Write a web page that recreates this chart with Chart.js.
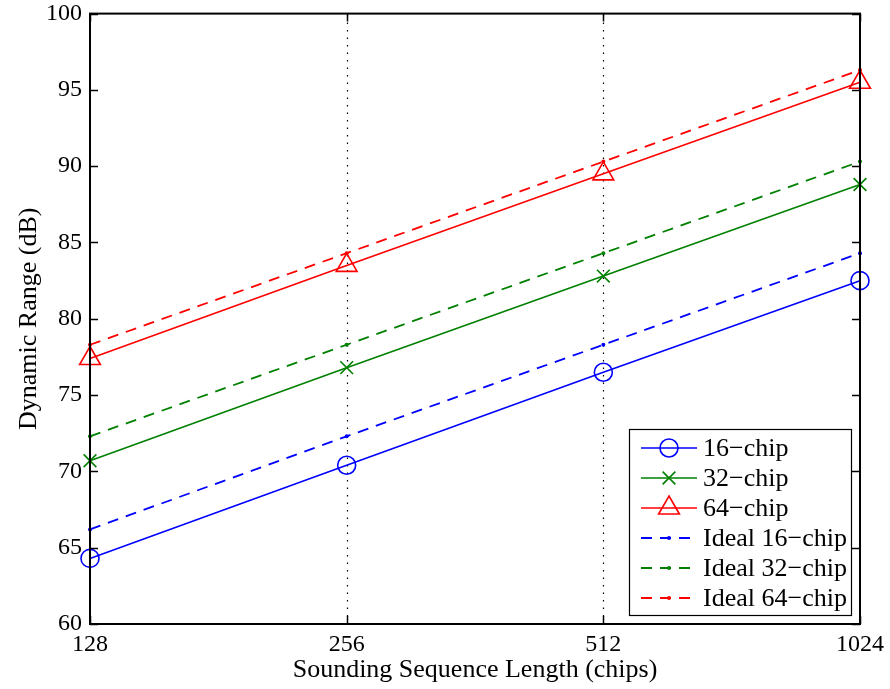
<!DOCTYPE html>
<html>
<head>
<meta charset="utf-8">
<script src="https://cdn.jsdelivr.net/npm/chart.js@4.4.1/dist/chart.umd.min.js"></script>
<style>
html,body{margin:0;padding:0;background:#fff;}
#wrap{width:890px;height:689px;position:relative;}
</style>
</head>
<body>
<div id="wrap"><canvas id="c"></canvas></div>
<script>
const categories = ['128', '256', '512', '1024'];
const chip16 = [64.3, 70.4, 76.5, 82.5];
const chip32 = [70.7, 76.8, 82.8, 88.8];
const chip64 = [77.4, 83.5, 89.5, 95.5];
const ideal16 = [66.2, 72.3, 78.3, 84.3];
const ideal32 = [72.3, 78.3, 84.3, 90.3];
const ideal64 = [78.3, 84.3, 90.3, 96.3];
const seriesNames = ['16\u2212chip', '32\u2212chip', '64\u2212chip', 'Ideal 16\u2212chip', 'Ideal 32\u2212chip', 'Ideal 64\u2212chip'];
const yMin = 60, yMax = 100, yStep = 5;

const FONT = "'Liberation Serif', 'Times New Roman', serif";
const BLUE = '#0000ff', GREEN = '#008000', RED = '#ff0000';

function solid(label, data, color, style, radius) {
  return {label, data, borderColor: color, backgroundColor: 'rgba(0,0,0,0)', borderWidth: 1.6,
    pointStyle: style, pointRadius: radius, pointHoverRadius: radius, pointBorderColor: color,
    pointBackgroundColor: 'rgba(0,0,0,0)', pointBorderWidth: 1.6, tension: 0, fill: false};
}
function dashed(label, data, color) {
  return {label, data, borderColor: color, backgroundColor: color, borderWidth: 1.8, borderDash: [11, 8],
    pointStyle: 'circle', pointRadius: 2, pointHoverRadius: 2, pointBorderWidth: 0,
    pointBackgroundColor: color, tension: 0, fill: false};
}

const datasets = [
  solid(seriesNames[0], chip16, BLUE, 'circle', 9),
  solid(seriesNames[1], chip32, GREEN, 'crossRot', 9),
  solid(seriesNames[2], chip64, RED, 'triangle', 12),
  dashed(seriesNames[3], ideal16, BLUE),
  dashed(seriesNames[4], ideal32, GREEN),
  dashed(seriesNames[5], ideal64, RED)
];

const gridPlugin = {
  id: 'dotgrid',
  beforeDatasetsDraw(chart) {
    const {ctx, chartArea: a, scales} = chart;
    ctx.save();
    ctx.strokeStyle = '#000';
    ctx.lineWidth = 1.2;
    ctx.setLineDash([1.5, 6]);
    categories.forEach((c, i) => {
      if (i === 0 || i === categories.length - 1) return;
      const x = Math.round(scales.x.getPixelForValue(i)) + 0.5;
      ctx.beginPath(); ctx.moveTo(x, a.bottom); ctx.lineTo(x, a.top); ctx.stroke();
    });
    ctx.restore();
  }
};

const framePlugin = {
  id: 'frame',
  afterDatasetsDraw(chart) {
    const {ctx, chartArea: a, scales} = chart;
    ctx.save();
    ctx.strokeStyle = '#000';
    ctx.lineWidth = 1.5;
    ctx.setLineDash([]);
    for (let v = yMin; v <= yMax; v += yStep) {
      const y = Math.round(scales.y.getPixelForValue(v)) + 0.5;
      ctx.beginPath();
      ctx.moveTo(a.left, y); ctx.lineTo(a.left + 8, y);
      ctx.moveTo(a.right, y); ctx.lineTo(a.right - 8, y);
      ctx.stroke();
    }
    categories.forEach((c, i) => {
      const x = Math.round(scales.x.getPixelForValue(i)) + 0.5;
      ctx.beginPath();
      ctx.moveTo(x, a.bottom); ctx.lineTo(x, a.bottom - 8);
      ctx.moveTo(x, a.top); ctx.lineTo(x, a.top + 8);
      ctx.stroke();
    });
    ctx.lineWidth = 2;
    ctx.strokeRect(a.left, a.top, a.right - a.left, a.bottom - a.top);

    // legend
    const L = 629, T = 429, R = 851, B = 615;
    ctx.fillStyle = '#fff';
    ctx.fillRect(L, T, R - L, B - T);
    ctx.lineWidth = 1.2;
    ctx.strokeStyle = '#000';
    ctx.strokeRect(L + 0.5, T + 0.5, R - L, B - T);
    const rowY = [448, 478, 508, 538, 568, 598];
    ctx.font = '26px ' + FONT;
    ctx.textBaseline = 'middle';
    ctx.textAlign = 'left';
    datasets.forEach((ds, i) => {
      const y = rowY[i];
      const x0 = 641, x1 = 697, xm = (x0 + x1) / 2;
      ctx.strokeStyle = ds.borderColor;
      ctx.lineWidth = ds.borderWidth;
      ctx.setLineDash(ds.borderDash || []);
      ctx.beginPath(); ctx.moveTo(x0, y); ctx.lineTo(x1, y); ctx.stroke();
      ctx.setLineDash([]);
      if (ds.pointRadius > 3) {
        ctx.fillStyle = 'rgba(0,0,0,0)';
        ctx.lineWidth = ds.pointBorderWidth;
        Chart.helpers.drawPoint(ctx, {pointStyle: ds.pointStyle, radius: ds.pointRadius, rotation: 0, borderWidth: ds.pointBorderWidth}, xm, y);
      } else {
        ctx.fillStyle = ds.borderColor;
        ctx.beginPath(); ctx.arc(xm, y, 2, 0, Math.PI * 2); ctx.fill();
      }
      ctx.fillStyle = '#000';
      ctx.fillText(ds.label, 703, y + 1);
    });
    ctx.restore();
  }
};

new Chart(document.getElementById('c'), {
  type: 'line',
  data: {labels: categories, datasets},
  options: {
    responsive: true,
    maintainAspectRatio: false,
    animation: false,
    layout: {padding: {left: 0, right: 30, top: 12, bottom: 0}},
    plugins: {legend: {display: false}, tooltip: {enabled: false}},
    scales: {
      x: {
        type: 'category',
        offset: false,
        afterFit: s => { s.height = 65; s.paddingLeft = 0; s.paddingRight = 0; },
        grid: {display: false, drawTicks: false},
        border: {display: false},
        ticks: {color: '#000', font: {family: FONT, size: 24}, padding: 6, maxRotation: 0, autoSkip: false},
        title: {display: true, text: 'Sounding Sequence Length (chips)', color: '#000',
          font: {family: FONT, size: 26}, padding: {top: 0, bottom: 3}}
      },
      y: {
        min: yMin, max: yMax,
        afterFit: s => { s.width = 90; s.paddingTop = 0; s.paddingBottom = 0; },
        grid: {display: false, drawTicks: false},
        border: {display: false},
        ticks: {stepSize: yStep, color: '#000', font: {family: FONT, size: 24}, padding: 8},
        title: {display: true, text: 'Dynamic Range (dB)', color: '#000',
          font: {family: FONT, size: 26}, padding: {top: 14, bottom: 0}}
      }
    }
  },
  plugins: [gridPlugin, framePlugin]
});
</script>
</body>
</html>
